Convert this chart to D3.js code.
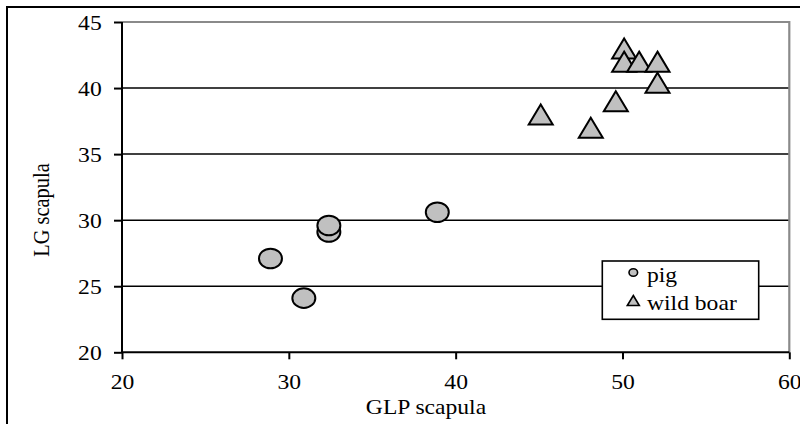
<!DOCTYPE html>
<html><head><meta charset="utf-8">
<script src="https://cdn.jsdelivr.net/npm/d3@7"></script>
<style>html,body{margin:0;padding:0;background:#fff;} svg{display:block;}</style>
</head><body>
<script>
// ---- data ----
const xTicks = [20, 30, 40, 50, 60];
const yTicks = [20, 25, 30, 35, 40, 45];
const pigGLP = [28.9, 30.9, 32.4, 32.4, 38.9];
const pigLG  = [27.1, 24.1, 29.1, 29.6, 30.6];
const boarGLP = [45.1, 48.1, 49.6, 50.1, 50.1, 51.0, 52.1, 52.1];
const boarLG  = [38.0, 37.0, 39.0, 43.0, 42.0, 42.0, 42.0, 40.4];
const seriesNames = ["pig", "wild boar"];
const xTitle = "GLP scapula", yTitle = "LG scapula";

const W = 800, H = 424, SX = 1.18, FS = 20;
const font = "Liberation Serif, serif";
const svg = d3.select("body").append("svg").attr("width", W).attr("height", H);
svg.append("rect").attr("width", W).attr("height", H).attr("fill", "#fff");
svg.append("rect").attr("x", 7).attr("y", 7).attr("width", W).attr("height", H)
  .attr("fill", "none").attr("stroke", "#000").attr("stroke-width", 2);

const x = d3.scaleLinear().domain([20, 60]).range([122, 789.3]);
const y = d3.scaleLinear().domain([20, 45]).range([352.3, 22]);

// gridlines
svg.append("g").selectAll("line").data(yTicks.filter(v => v > 20 && v < 45)).join("line")
  .attr("x1", x(20)).attr("x2", x(60)).attr("y1", d => y(d)).attr("y2", d => y(d))
  .attr("stroke", "#000").attr("stroke-width", 1.5);
// top & right plot border (gray)
svg.append("path").attr("d", `M${x(20)},${y(45)}H${x(60)}V${y(20)}`)
  .attr("fill", "none").attr("stroke", "#8a8a8a").attr("stroke-width", 2.2);

// axes
const gx = svg.append("g").attr("transform", `translate(0,${y(20)})`)
  .call(d3.axisBottom(x).tickValues(xTicks).tickSize(7).tickSizeOuter(0));
const gy = svg.append("g").attr("transform", `translate(${x(20)},0)`)
  .call(d3.axisLeft(y).tickValues(yTicks).tickSize(8).tickSizeOuter(0));
[gx, gy].forEach(g => {
  g.select(".domain").attr("stroke", "#000").attr("stroke-width", 2);
  g.selectAll(".tick line").attr("stroke", "#000").attr("stroke-width", 2);
  g.selectAll("text").attr("font-family", font).attr("font-size", FS).attr("fill", "#000").attr("dy", null);
});
gx.select(".domain").attr("d", `M${x(20)},0H${x(60)}`);
gy.select(".domain").attr("d", `M0,${y(45)}V${y(20)}`);
gx.selectAll("text").attr("y", 36.7).attr("x", 0).attr("transform", `scale(${SX},1)`);
gy.selectAll("text").attr("x", -20.3 / SX).attr("y", 7).attr("transform", `scale(${SX},1)`);

// marks
const fill = "#c0c0c0";
const tri = (hw, hh) => `M0,${-hh}L${hw},${hh}L${-hw},${hh}Z`;
const pigOrder = [0, 1, 2, 3, 4];
svg.append("g").selectAll("ellipse").data(pigOrder).join("ellipse")
  .attr("cx", i => x(pigGLP[i])).attr("cy", i => y(pigLG[i]))
  .attr("rx", 11.5).attr("ry", 9.8)
  .attr("fill", fill).attr("stroke", "#000").attr("stroke-width", 2);
svg.append("g").selectAll("path").data(boarGLP.map((d, i) => i)).join("path")
  .attr("transform", i => `translate(${x(boarGLP[i])},${y(boarLG[i])})`)
  .attr("d", tri(12, 10))
  .attr("fill", fill).attr("stroke", "#000").attr("stroke-width", 2).attr("stroke-linejoin", "miter");

// legend
const lg = svg.append("g");
lg.append("rect").attr("x", 602.3).attr("y", 261).attr("width", 156.4).attr("height", 58.3)
  .attr("fill", "#fff").attr("stroke", "#000").attr("stroke-width", 1.6);
lg.append("ellipse").attr("cx", 633.3).attr("cy", 272.5).attr("rx", 4.3).attr("ry", 3.8)
  .attr("fill", fill).attr("stroke", "#000").attr("stroke-width", 1.6);
lg.append("path").attr("transform", "translate(633.3,300.5)").attr("d", tri(6, 5))
  .attr("fill", fill).attr("stroke", "#000").attr("stroke-width", 1.6);
[[seriesNames[0], 282.3], [seriesNames[1], 310]].forEach(([t, by]) => {
  lg.append("text").attr("transform", `translate(647,${by}) scale(${SX},1)`)
    .attr("font-family", font).attr("font-size", FS).attr("fill", "#000").text(t);
});

// titles
svg.append("text").attr("transform", `translate(426,414.3) scale(${SX},1)`)
  .attr("text-anchor", "middle").attr("font-family", font).attr("font-size", FS).attr("fill", "#000").text(xTitle);
svg.append("text").attr("transform", `translate(49,210) rotate(-90) scale(1.02,${SX})`)
  .attr("text-anchor", "middle").attr("font-family", font).attr("font-size", FS).attr("fill", "#000").text(yTitle);
</script>
</body></html>
